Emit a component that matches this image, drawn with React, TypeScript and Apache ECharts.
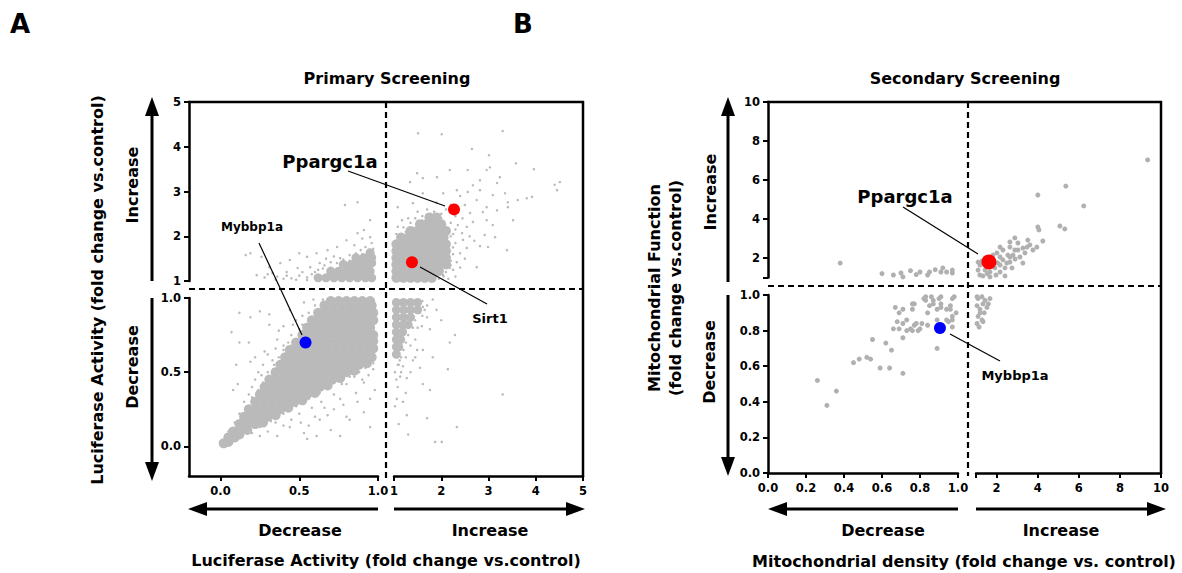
import React, { useEffect, useRef } from "react";
import * as echarts from "echarts";

const FONT = "'DejaVu Sans', sans-serif";

// ---------- Panel A (Primary Screening) ----------
const aBLCore = [[0.02,0.02],[0.05,0.03],
[0.05,0.06],[0.09,0.06],[0.12,0.08],
[0.08,0.1],[0.12,0.11],[0.17,0.11],
[0.12,0.15],[0.17,0.15],[0.22,0.15],[0.27,0.16],
[0.15,0.2],[0.2,0.2],[0.25,0.2],[0.3,0.2],[0.35,0.21],
[0.18,0.25],[0.23,0.25],[0.28,0.25],[0.33,0.25],[0.38,0.25],[0.43,0.26],
[0.22,0.3],[0.27,0.3],[0.32,0.3],[0.37,0.3],[0.42,0.3],[0.47,0.3],[0.52,0.31],
[0.25,0.35],[0.3,0.35],[0.35,0.35],[0.4,0.35],[0.45,0.35],[0.5,0.35],[0.55,0.35],[0.6,0.36],
[0.28,0.4],[0.33,0.4],[0.38,0.4],[0.43,0.4],[0.48,0.4],[0.53,0.4],[0.58,0.4],[0.63,0.4],[0.68,0.41],
[0.31,0.45],[0.36,0.45],[0.41,0.45],[0.46,0.45],[0.51,0.45],[0.56,0.45],[0.61,0.45],[0.66,0.45],[0.71,0.45],[0.76,0.46],
[0.35,0.5],[0.4,0.5],[0.45,0.5],[0.5,0.5],[0.55,0.5],[0.6,0.5],[0.65,0.5],[0.7,0.5],[0.75,0.5],[0.8,0.5],[0.85,0.51],
[0.38,0.55],[0.43,0.55],[0.48,0.55],[0.53,0.55],[0.58,0.55],[0.63,0.55],[0.68,0.55],[0.73,0.55],[0.78,0.55],[0.83,0.55],[0.88,0.55],[0.93,0.56],
[0.41,0.6],[0.46,0.6],[0.51,0.6],[0.56,0.6],[0.61,0.6],[0.66,0.6],[0.71,0.6],[0.76,0.6],[0.81,0.6],[0.86,0.6],[0.91,0.6],[0.96,0.6],
[0.44,0.65],[0.49,0.65],[0.54,0.65],[0.59,0.65],[0.64,0.65],[0.69,0.65],[0.74,0.65],[0.79,0.65],[0.84,0.65],[0.89,0.65],[0.94,0.65],[0.97,0.66],
[0.48,0.7],[0.53,0.7],[0.58,0.7],[0.63,0.7],[0.68,0.7],[0.73,0.7],[0.78,0.7],[0.83,0.7],[0.88,0.7],[0.93,0.7],[0.97,0.71],
[0.52,0.75],[0.57,0.75],[0.62,0.75],[0.67,0.75],[0.72,0.75],[0.77,0.75],[0.82,0.75],[0.87,0.75],[0.92,0.75],[0.97,0.75],
[0.55,0.8],[0.6,0.8],[0.65,0.8],[0.7,0.8],[0.75,0.8],[0.8,0.8],[0.85,0.8],[0.9,0.8],[0.95,0.8],
[0.58,0.85],[0.63,0.85],[0.68,0.85],[0.73,0.85],[0.78,0.85],[0.83,0.85],[0.88,0.85],[0.93,0.85],[0.97,0.85],
[0.62,0.9],[0.67,0.9],[0.72,0.9],[0.77,0.9],[0.82,0.9],[0.87,0.9],[0.92,0.9],[0.97,0.9],
[0.66,0.95],[0.71,0.95],[0.76,0.95],[0.81,0.95],[0.86,0.95],[0.91,0.95],[0.96,0.95],
[0.7,0.98],[0.75,0.98],[0.8,0.98],[0.85,0.98],[0.9,0.98],[0.95,0.98]];

const aBLSparse = [[0.12,0.9],[0.19,0.87],[0.25,0.91],[0.31,0.89],[0.07,0.77],[0.12,0.7],[0.18,0.7],[0.31,0.82],[0.36,0.72],[0.4,0.81],[0.44,0.92],[0.53,0.97],[0.59,0.99],[0.1,0.55],[0.19,0.57],[0.08,0.38],[0.11,0.42],[0.24,0.5],
[0.76,0.32],[0.87,0.3],[0.95,0.32],[0.91,0.23],[0.82,0.18],[0.95,0.13],[0.7,0.11],[0.61,0.07],[0.53,0.09],[0.55,0.05],[0.76,0.07],[0.8,0.2],[0.72,0.25],[0.98,0.38],[0.91,0.43],[0.97,0.52],[0.44,0.13],[0.51,0.16],[0.63,0.18],[0.36,0.07],
[0.15,0.3],[0.18,0.35],[0.22,0.45],[0.27,0.55],[0.3,0.62],[0.35,0.66],[0.4,0.68],[0.45,0.75],[0.48,0.85],[0.52,0.88],[0.42,0.62],[0.26,0.48],[0.2,0.4],[0.16,0.25],[0.12,0.22],[0.6,0.2],[0.66,0.26],[0.72,0.35],[0.8,0.42],[0.85,0.47],[0.58,0.26],[0.5,0.22],[0.45,0.18],[0.4,0.14],[0.3,0.1],[0.25,0.07],[0.35,0.16],
[0.33,0.58],[0.37,0.78],[0.46,0.82],[0.5,0.79],[0.43,0.7],[0.28,0.64],[0.22,0.6],[0.64,0.3],[0.68,0.21],[0.86,0.36],[0.9,0.45],[0.94,0.48],[0.78,0.28],[0.56,0.14],[0.05,0.1],[0.09,0.16],
[0.1,0.13],[0.14,0.19],[0.17,0.27],[0.2,0.33],[0.24,0.38],[0.27,0.43],[0.3,0.5],[0.34,0.55],[0.37,0.6],[0.4,0.65],[0.45,0.68],[0.5,0.74],[0.52,0.82],[0.56,0.9],[0.6,0.95],[0.65,0.99],
[0.1,0.05],[0.2,0.09],[0.25,0.13],[0.32,0.17],[0.4,0.22],[0.48,0.27],[0.56,0.32],[0.63,0.36],[0.7,0.4],[0.77,0.42],[0.82,0.47],[0.88,0.5],[0.92,0.53],[0.97,0.56]];

const aTLCore = [[0.62,1.07],[0.67,1.07],[0.72,1.07],[0.77,1.07],[0.82,1.07],[0.87,1.07],[0.92,1.07],[0.96,1.07],
[0.7,1.22],[0.75,1.22],[0.8,1.22],[0.85,1.22],[0.9,1.22],[0.95,1.22],
[0.78,1.37],[0.83,1.37],[0.88,1.37],[0.93,1.37],[0.96,1.4],
[0.86,1.52],[0.91,1.52],[0.96,1.52],
[0.95,1.63]];

const aTLSparse = [[0.19,1.62],[0.26,1.54],[0.31,1.31],[0.38,1.4],[0.44,1.47],[0.5,1.62],[0.55,1.54],[0.61,1.62],[0.68,1.69],[0.74,1.76],[0.8,1.91],[0.87,2.07],[0.91,2.14],[0.95,2.36],[0.87,2.76],[0.79,2.7],[0.95,1.98],[0.33,1.18],[0.23,1.13],[0.42,1.2],[0.49,1.29],[0.57,1.31],[0.63,1.4],[0.7,1.42],[0.76,1.51],[0.82,1.58],[0.89,1.69],[0.92,1.76],[0.16,1.58],
[0.28,1.08],[0.36,1.1],[0.45,1.06],[0.5,1.12],[0.55,1.08],[0.6,1.2],[0.65,1.28],[0.4,1.05],[0.52,1.2],[0.6,1.1],[0.85,1.8],[0.9,1.95],[0.96,1.85],[0.72,1.55],[0.67,1.5],
[0.58,1.15],[0.62,1.25],[0.66,1.35],[0.7,1.3],[0.74,1.4],[0.78,1.48],[0.82,1.45],[0.86,1.62],[0.9,1.6],[0.94,1.7],[0.97,1.72],[0.55,1.02],[0.48,1.03],[0.42,1.12],[0.35,1.03],[0.3,1.15]];

const aTRCore = [[1.05,1.07],[1.2,1.07],[1.35,1.07],[1.5,1.07],[1.65,1.07],[1.8,1.07],
[1.05,1.22],[1.2,1.22],[1.35,1.22],[1.5,1.22],[1.65,1.22],[1.8,1.22],[1.95,1.22],
[1.05,1.37],[1.2,1.37],[1.35,1.37],[1.5,1.37],[1.65,1.37],[1.8,1.37],[1.95,1.37],[2.1,1.37],
[1.05,1.52],[1.2,1.52],[1.35,1.52],[1.5,1.52],[1.65,1.52],[1.8,1.52],[1.95,1.52],[2.1,1.52],
[1.05,1.67],[1.2,1.67],[1.35,1.67],[1.5,1.67],[1.65,1.67],[1.8,1.67],[1.95,1.67],[2.1,1.67],
[1.05,1.82],[1.2,1.82],[1.35,1.82],[1.5,1.82],[1.65,1.82],[1.8,1.82],[1.95,1.82],[2.1,1.82],
[1.15,1.97],[1.3,1.97],[1.45,1.97],[1.6,1.97],[1.75,1.97],[1.9,1.97],[2.05,1.97],
[1.35,2.12],[1.5,2.12],[1.65,2.12],[1.8,2.12],[1.95,2.12],[2.1,2.12],
[1.55,2.27],[1.7,2.27],[1.85,2.27],[2.0,2.27],
[1.75,2.42],[1.9,2.42]];

const aTRSparse = [[1.51,4.3],[2.01,4.28],[3.3,4.35],[2.65,3.95],[3.01,3.81],[3.58,3.63],[3.96,3.5],[4.51,3.21],[4.45,3.03],[2.96,3.48],[3.03,3.54],[2.56,3.48],[2.18,3.48],[1.91,3.32],[1.61,3.3],[1.49,3.41],[1.34,3.21],[2.82,3.25],[2.67,3.14],[3.18,3.19],[3.24,3.32],[2.56,2.99],[2.82,3.03],[3.09,2.92],[3.35,2.96],[3.41,2.76],[3.62,2.81],[3.81,2.85],[3.92,2.88],[2.33,3.03],[2.04,2.96],[1.61,2.96],[1.08,2.65],[1.4,2.74],[2.75,2.81],[2.96,2.65],[2.88,2.54],[3.18,2.58],[3.41,2.65],[2.5,2.7],[2.61,2.52],[2.67,2.32],[2.54,2.21],[2.44,2.07],[2.46,1.92],[2.54,1.74],[2.4,1.62],[2.33,1.42],[2.18,1.29],[2.04,1.13],[2.75,1.31],[2.99,1.76],[2.82,1.78],[3.14,1.98],[3.39,1.69],[3.52,2.36],[2.92,2.03],[2.96,2.36],[3.09,2.25],[1.17,2.36],[1.08,2.21],
[1.3,2.4],[1.5,2.55],[1.7,2.6],[1.9,2.75],[2.0,2.5],[2.2,2.7],[2.3,2.45],[2.45,2.4],[2.2,2.3],[2.35,2.25],[2.25,2.05],[2.3,1.85],[2.25,1.6],[2.2,1.45],[2.1,1.2],[1.9,2.45],[1.75,2.45],[1.6,2.35],[1.25,2.1],[1.15,2.0],[2.6,2.0],[2.7,1.9],[2.5,1.5],[2.4,1.3],[2.3,1.1],[2.15,1.05],[4.4,3.15],[2.4,2.9],[2.1,2.6],
[1.05,2.05],[1.2,2.2],[1.35,2.3],[1.45,2.4],[1.6,2.45],[2.2,2.0],[2.25,1.75],[2.2,1.35],[2.05,1.1],[1.95,1.05],[2.3,2.15],[2.0,2.4],[1.85,2.55],[2.15,1.55],[2.25,1.25]];

const aBRCore = [[1.05,0.97],[1.2,0.97],[1.35,0.97],[1.5,0.97],
[1.05,0.92],[1.2,0.92],[1.35,0.92],[1.5,0.92],
[1.05,0.87],[1.2,0.87],[1.35,0.87],
[1.05,0.82],[1.2,0.82],[1.3,0.82],
[1.05,0.77],[1.18,0.77],
[1.05,0.72],[1.14,0.72],
[1.05,0.67],[1.1,0.67],
[1.05,0.62]];

const aBRSparse = [[1.82,0.99],[1.61,0.94],[1.7,0.87],[1.59,0.81],[1.76,0.79],[2.29,0.75],[2.18,0.7],[1.49,0.65],[1.61,0.65],[1.82,0.6],[1.4,0.58],[1.19,0.54],[1.55,0.53],[1.13,0.47],[1.27,0.46],[1.08,0.4],[1.61,0.42],[1.76,0.38],[2.14,0.52],[1.06,0.32],[1.19,0.3],[1.02,0.27],[1.27,0.21],[1.7,0.19],[2.33,0.13],[1.3,0.08],[1.87,0.03],[2.01,0.03],[3.3,0.35],
[1.1,0.55],[1.15,0.5],[1.25,0.6],[1.35,0.68],[1.45,0.72],[1.5,0.8],[1.6,0.88],[1.7,0.95],[1.9,0.92],[2.0,0.85],[1.25,0.36],[1.05,0.45],[1.35,0.5],[1.1,0.15],[1.45,0.6],
[1.6,0.98],[1.55,0.9],[1.45,0.85],[1.4,0.8],[1.3,0.75],[1.25,0.7],[1.2,0.65],[1.15,0.6],[1.08,0.55],[1.12,0.58],[1.02,0.5],[1.65,0.92]];

const aRed = [[2.27, 2.6], [1.38, 1.42]];
const aBlue = [[0.54, 0.7]];

// ---------- Panel B (Secondary Screening) ----------
const bBL = [[0.26,0.52],[0.31,0.38],[0.36,0.46],[0.45,0.62],[0.48,0.64],[0.52,0.65],[0.54,0.64],[0.55,0.75],[0.59,0.59],[0.62,0.73],[0.64,0.59],[0.65,0.69],[0.71,0.56],[0.71,0.76],[0.67,0.93],[0.69,0.9],[0.66,0.81],[0.68,0.85],[0.71,0.84],[0.73,0.8],[0.76,0.8],[0.77,0.83],[0.79,0.8],[0.81,0.84],[0.84,0.9],[0.84,0.83],[0.85,0.94],[0.87,0.97],[0.89,0.92],[0.9,0.98],[0.91,0.95],[0.76,0.95],[0.82,0.98],[0.83,0.97],[0.89,0.7],[0.94,0.92],[0.96,0.94],[0.97,0.88],[0.97,0.82],[0.95,0.85],[0.71,0.92],[0.77,0.95],[0.76,0.92],[0.83,0.99],[0.86,0.99],[0.87,0.95],[0.91,0.99],[0.91,0.93],[0.97,0.98],[0.98,0.99],[0.96,0.92],[0.99,0.9],[0.94,0.86],[0.97,0.86],[0.89,0.86],[0.73,0.86],[0.78,0.84],[0.69,0.81],[0.75,0.81],[0.8,0.81]];

const bTL = [[0.38,1.74],[0.66,1.13],[0.7,1.23],[0.8,1.28],[0.84,1.13],[0.92,1.49],[0.94,1.28],[0.97,1.38],[0.85,1.28],[0.71,1.03],[0.97,1.23],[0.91,1.28],[0.6,1.2],[0.75,1.35],[0.88,1.4],[0.78,1.15]];

const bTR = [[9.35,7.03],[5.37,5.69],[4.01,5.23],[6.24,4.67],[5.08,3.64],[5.32,3.49],[4.01,3.59],[4.06,3.44],[4.25,2.87],[3.96,2.56],[3.52,2.92],[3.48,2.56],[2.89,3.03],[3.04,2.77],[2.65,2.56],[2.89,2.41],[3.38,2.26],[3.28,1.74],[2.65,2.05],[2.31,2.41],[2.17,2.05],[2.5,1.74],[1.83,1.9],[2.02,2.26],[2.17,2.56],[2.65,2.82],[3.14,2.05],
[1.19,1.64],[1.44,1.38],[1.68,1.28],[1.92,1.49],[2.17,1.64],[1.19,1.13],[1.68,1.03],[2.17,1.28],[2.41,1.49],[1.44,2.0],[1.83,2.15],[2.31,1.9],[2.65,1.79],[1.1,1.38],[1.34,1.08],[2.55,2.15],[2.8,2.15],[3.04,2.41],[3.28,2.51],[3.62,2.67],[3.77,2.41],[1.1,1.79],[2.75,1.49],[1.97,1.13],[2.41,1.08],[1.3,1.85],[1.55,1.2],[2.05,1.75],[2.9,1.95]];

const bBR = [[1.05,0.99],[1.29,0.99],[1.1,0.98],[1.44,0.97],[1.68,0.98],[1.05,0.94],[1.34,0.95],[1.19,0.92],[1.53,0.93],[1.1,0.88],[1.29,0.86],[1.05,0.84],[1.34,0.85],[1.2,0.9],[1.4,0.9],[1.6,0.95],[1.15,0.82]];

const bRed = [[1.63, 1.8]];
const bBlue = [[0.905, 0.815]];

// ---------- tick values ----------
const aLowTicks = [0, 0.5, 1];
const bHighTicks = [1, 2, 4, 6, 8, 10];
const bHighLabels = [2, 4, 6, 8, 10];

const GRAY = "#bababa";

function App() {
  const ref = useRef<HTMLDivElement>(null);
  useEffect(() => {
    if (!ref.current) return;
    const chart = echarts.init(ref.current, null, { renderer: "svg" });

    const axisLine = { show: true, onZero: false, lineStyle: { color: "#000", width: 2.5 } };
    const axisTick = { show: true, length: 5, inside: false, lineStyle: { color: "#000", width: 2 } };
    const lbl = { color: "#000", fontFamily: FONT, fontWeight: "bold", fontSize: 11.5 };
    const hidden = (gi: number, min: number, max: number) => ({
      type: "value", gridIndex: gi, min, max, show: false, splitLine: { show: false },
    });
    const fmt1 = (v: number) => v.toFixed(1);
    const visX = (gi: number, min: number, max: number, extra: any) => ({
      type: "value", gridIndex: gi, min, max, position: "bottom",
      axisLine, splitLine: { show: false },
      axisTick: { ...axisTick, ...(extra.ticks ? { customValues: extra.ticks } : {}) },
      axisLabel: { ...lbl, margin: 9, showMinLabel: true, showMaxLabel: true,
        ...(extra.labels ? { customValues: extra.labels } : {}),
        ...(extra.fmt ? { formatter: extra.fmt } : {}) },
      ...(extra.interval ? { interval: extra.interval } : {}),
    });
    const visY = (gi: number, min: number, max: number, extra: any) => ({
      type: "value", gridIndex: gi, min, max, position: "left",
      axisLine, splitLine: { show: false },
      axisTick: { ...axisTick, ...(extra.ticks ? { customValues: extra.ticks } : {}) },
      axisLabel: { ...lbl, margin: 8, showMinLabel: true, showMaxLabel: true,
        ...(extra.labels ? { customValues: extra.labels } : {}),
        ...(extra.fmt ? { formatter: extra.fmt } : {}) },
      ...(extra.interval ? { interval: extra.interval } : {}),
    });

    const grids = [
      { left: 189, top: 102, width: 189, height: 179 },
      { left: 394, top: 102, width: 189, height: 179 },
      { left: 189, top: 298, width: 189, height: 178 },
      { left: 394, top: 298, width: 189, height: 178 },
      { left: 768, top: 102, width: 190, height: 175.5 },
      { left: 976, top: 102, width: 185, height: 175.5 },
      { left: 768, top: 295, width: 190, height: 178 },
      { left: 976, top: 295, width: 185, height: 178 },
    ].map((g) => ({ ...g, containLabel: false, outerBoundsMode: "none", show: false }));

    const xAxis = [
      hidden(0, -0.2, 1),
      hidden(1, 1, 5),
      visX(2, -0.2, 1, { ticks: aLowTicks, labels: aLowTicks, fmt: fmt1 }),
      visX(3, 1, 5, { interval: 1 }),
      hidden(4, 0, 1),
      hidden(5, 1, 10),
      visX(6, 0, 1, { interval: 0.2, fmt: fmt1 }),
      visX(7, 1, 10, { ticks: bHighTicks, labels: bHighLabels }),
    ];
    const yAxis = [
      visY(0, 1, 5, { interval: 1 }),
      hidden(1, 1, 5),
      visY(2, -0.2, 1, { ticks: aLowTicks, labels: aLowTicks, fmt: fmt1 }),
      hidden(3, -0.2, 1),
      visY(4, 1, 10, { ticks: bHighTicks, labels: bHighLabels }),
      hidden(5, 1, 10),
      visY(6, 0, 1, { interval: 0.2, fmt: fmt1 }),
      hidden(7, 0, 1),
    ];

    const sc = (gi: number, data: number[][], size: number, color: string, z = 2) => ({
      type: "scatter", xAxisIndex: gi, yAxisIndex: gi, data, symbolSize: size,
      itemStyle: { color, opacity: 1 }, silent: true, z,
    });

    const series = [
      sc(2, aBLCore, 10, GRAY), sc(2, aBLSparse, 2.5, GRAY),
      sc(0, aTLCore, 9, GRAY), sc(0, aTLSparse, 2.5, GRAY),
      sc(1, aTRCore, 10, GRAY), sc(1, aTRSparse, 2.5, GRAY),
      sc(3, aBRCore, 9, GRAY), sc(3, aBRSparse, 2.5, GRAY),
      sc(1, aRed, 12, "#ff0000", 20),
      sc(2, aBlue, 12, "#0000ff", 20),
      sc(4, bTL, 5, "#b0b0b0"), sc(5, bTR, 5, "#b0b0b0"),
      sc(6, bBL, 5, "#b0b0b0"), sc(7, bBR, 5, "#b0b0b0"),
      sc(5, bRed, 15, "#ff0000", 20),
      sc(6, bBlue, 12, "#0000ff", 20),
    ];

    const line = (x1: number, y1: number, x2: number, y2: number, w: number, dash?: number[]) => ({
      type: "line", z: 10, silent: true, shape: { x1, y1, x2, y2 },
      style: { stroke: "#000", lineWidth: w, lineDash: dash || null },
    });
    const txt = (text: string, x: number, y: number, size: number, rot = false) => ({
      type: "text", x, y, z: 10, silent: true, rotation: rot ? Math.PI / 2 : 0,
      style: { text, x: 0, y: 0, fill: "#000", font: `bold ${size}px ${FONT}`,
        textAlign: "center", textVerticalAlign: "middle", align: "center", verticalAlign: "middle" },
    });
    const arrow = (x1: number, y1: number, tx: number, ty: number) => {
      const dx = tx - x1, dy = ty - y1, len = Math.hypot(dx, dy);
      const ux = dx / len, uy = dy / len, hl = 19, hw = 7;
      const bx = tx - ux * hl, by = ty - uy * hl;
      return [
        line(x1, y1, bx + ux, by + uy, 3),
        { type: "polygon", z: 10, silent: true,
          shape: { points: [[tx, ty], [bx - uy * hw, by + ux * hw], [bx + uy * hw, by - ux * hw]] },
          style: { fill: "#000" } },
      ];
    };
    const dash = [6, 4];

    const graphic = [
      txt("A", 20, 24, 26), txt("B", 523, 24, 26),
      txt("Primary Screening", 387, 78, 16), txt("Secondary Screening", 965, 78, 16),
      line(188, 102, 584, 102, 2.5), line(583, 101, 583, 477, 2.5),
      line(386, 102, 386, 478, 2.2, dash), line(189, 289, 583, 289, 2.2, dash),
      line(767, 102, 1162, 102, 2.5), line(1161, 101, 1161, 474, 2.5),
      line(968, 102, 968, 476, 2.2, dash), line(768, 286, 1161, 286, 2.2, dash),
      ...arrow(152, 281, 152, 97), ...arrow(152, 298, 152, 481),
      ...arrow(378, 509, 188, 509), ...arrow(394, 509, 585, 509),
      ...arrow(728, 282, 728, 97), ...arrow(728, 295, 728, 476),
      ...arrow(958, 509, 768, 509), ...arrow(976, 509, 1166, 509),
      txt("Luciferase Activity (fold change vs.control)", 97, 290, 16, true),
      txt("Increase", 132, 185, 16, true), txt("Decrease", 132, 367, 16, true),
      txt("Decrease", 300, 530, 16), txt("Increase", 490, 530, 16),
      txt("Luciferase Activity (fold change vs.control)", 386, 560, 16),
      txt("Mitochondrial Function", 654, 288, 16, true),
      txt("(fold change vs.control)", 675, 288, 16, true),
      txt("Increase", 710, 192, 16, true), txt("Decrease", 709, 362, 16, true),
      txt("Decrease", 883, 530, 16), txt("Increase", 1061, 530, 16),
      txt("Mitochondrial density (fold change vs. control)", 964, 561, 16),
      txt("Ppargc1a", 330, 161, 18), line(348, 171, 445, 206, 1.2),
      txt("Mybbp1a", 252, 227, 12), line(259, 243, 302, 335, 1.2),
      txt("Sirt1", 490, 318, 13), line(420, 267, 487, 304, 1.2),
      txt("Ppargc1a", 905, 196, 18), line(903, 207, 978, 254, 1.2),
      txt("Mybbp1a", 1015, 375, 13), line(950, 334, 1000, 361, 1.2),
    ];

    chart.setOption({
      animation: false,
      backgroundColor: "#ffffff",
      grid: grids,
      xAxis,
      yAxis,
      series,
      graphic,
    });
    return () => chart.dispose();
  }, []);
  return (
    <div
      ref={ref}
      style={{ position: "absolute", left: 0, top: 0, width: 1182, height: 573 }}
    />
  );
}

export default App;
